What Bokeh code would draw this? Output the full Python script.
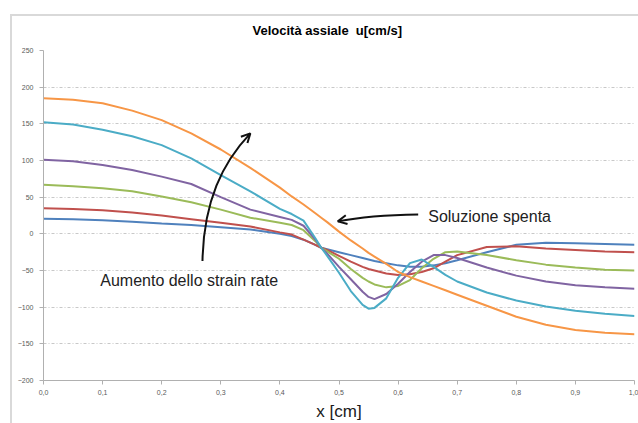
from bokeh.plotting import figure
from bokeh.models import Title, Arrow, OpenHead, FixedTicker, Range1d
from bokeh.core.properties import value
from bokeh.embed import file_html
from bokeh.resources import INLINE

# ---- data ----
X = [0.00, 0.05, 0.10, 0.15, 0.20, 0.25, 0.30, 0.35, 0.40, 0.42, 0.44, 0.46, 0.47, 0.48,
     0.50, 0.52, 0.54, 0.55, 0.56, 0.58, 0.60, 0.62, 0.64, 0.66, 0.68, 0.70, 0.75, 0.80,
     0.85, 0.90, 0.95, 1.00]

blue = [20.5, 20, 18.5, 16.5, 14, 12, 9, 6, 0, -3, -8, -15, -19, -21,
        -25, -29, -33, -35, -37, -40, -43, -45, -45, -43, -40, -36, -25, -15,
        -12, -13, -14, -15]
red = [35, 34, 32, 29, 25, 20, 15, 10, 2, -1, -8, -15, -19, -22,
       -30, -38, -45, -48, -50, -54, -56, -55, -52, -47, -38, -29, -18, -17,
       -20, -22, -24, -25]
green = [67, 65, 62, 58, 51, 43, 33, 22, 15, 12, 5, -10, -19, -24,
         -34, -48, -60, -65, -69, -73, -71, -63, -47, -34, -25, -24, -29, -36,
         -42, -46, -49, -50]
purple = [101, 99, 94, 87, 78, 68, 50, 33, 23, 19, 11, -8, -19, -27,
          -45, -62, -79, -86, -89, -82, -68, -52, -38, -29, -29, -33, -46, -57,
          -65, -70, -73, -75]
cyan = [152, 149, 142, 133, 121, 103, 80, 58, 34, 27, 18, -6, -19, -30,
        -53, -78, -97, -102, -101, -88, -60, -40, -35, -45, -56, -65, -80, -91,
        -99, -105, -109, -112]
orange = [185, 183, 178, 168, 155, 137, 115, 90, 63, 51, 40, 28, 22, 16,
          3, -9, -20, -26, -31, -41, -52, -59, -65, -71, -77, -83, -98, -113,
          -124, -131, -135, -137]

SERIES = [blue, red, green, purple, cyan, orange]
COLORS = ["#4F81BD", "#C0504D", "#9BBB59", "#8064A2", "#4BACC6", "#F79646"]

Y_TICKS = [-200, -150, -100, -50, 0, 50, 100, 150, 200, 250]
X_TICKS = [0.0, 0.1, 0.2, 0.3, 0.4, 0.5, 0.6, 0.7, 0.8, 0.9, 1.0]
X_LABELS = ["0,0", "0,1", "0,2", "0,3", "0,4", "0,5", "0,6", "0,7", "0,8", "0,9", "1,0"]

TITLE = "Velocità assiale \u00a0u[cm/s]"
XLABEL = "x [cm]"

# annotations
NOTE_TEXT = ["Aumento dello strain rate", "Soluzione spenta"]
NOTE_X = [0.096, 0.651]
NOTE_Y = [-63, 23.5]

# curved arrow 1 (strain rate), cubic bezier: start, control0, control1, end
A1 = dict(x0=0.269, y0=-37, cx0=0.271, cy0=45, cx1=0.303, cy1=97, x1=0.350, y1=137)
# curved arrow 2 (soluzione spenta)
A2 = dict(x0=0.634, y0=26.5, cx0=0.585, cy0=26, cx1=0.535, cy1=23, x1=0.498, y1=17)

p = figure(width=638, height=423, output_backend="svg", toolbar_location=None,
           x_range=Range1d(0, 1), y_range=Range1d(-200, 250), title=None,
           min_border_left=43, min_border_right=4, min_border_top=50, min_border_bottom=41)
# small spacer between the frame and the title, then the title itself
p.add_layout(Title(text="\u00a0", text_font_size="6px", standoff=0), "above")
p.add_layout(Title(text=TITLE, align="left", offset=209, text_font="Liberation Sans",
                   text_font_size="13px", text_font_style="bold", text_color="#000000"),
             "above")
p.outline_line_color = None
p.background_fill_color = "white"
p.border_fill_color = None
# outer chart frame (light grey left/top edges of the chart area)
p.styles = {
    "background": ("linear-gradient(#d9d9d9,#d9d9d9) 10px 14px / 2px 100% no-repeat, "
                   "linear-gradient(#d9d9d9,#d9d9d9) 10px 14px / 100% 2px no-repeat, white")
}

# grid
p.xgrid.visible = False
p.ygrid.ticker = FixedTicker(ticks=Y_TICKS)
p.ygrid.grid_line_color = "#c8c8c8"
p.ygrid.grid_line_dash = "3 2 1 2"
p.ygrid.grid_line_width = 1

# axes
for ax in (p.xaxis, p.yaxis):
    ax.axis_line_color = "#b0b0b0"
    ax.major_tick_line_color = "#b0b0b0"
    ax.major_tick_out = 4
    ax.major_tick_in = 0
    ax.minor_tick_line_color = None
    ax.major_label_text_font = "Liberation Sans"
    ax.major_label_text_font_size = "7px"
    ax.major_label_text_color = "#595959"

p.yaxis.ticker = FixedTicker(ticks=Y_TICKS)
p.yaxis.major_label_standoff = 6
p.xaxis.ticker = FixedTicker(ticks=X_TICKS)
p.xaxis.major_label_overrides = {t: l for t, l in zip(X_TICKS, X_LABELS)}
p.xaxis.major_label_standoff = 5
p.xaxis.axis_label = XLABEL
p.xaxis.axis_label_text_font = "Liberation Sans"
p.xaxis.axis_label_text_font_size = "17px"
p.xaxis.axis_label_text_font_style = "normal"
p.xaxis.axis_label_text_color = "#1a1a1a"
p.xaxis.axis_label_standoff = 4

for ys, c in zip(SERIES, COLORS):
    p.line(X, ys, line_color=c, line_width=2)

# arrows
for a in (A1, A2):
    p.bezier(x0=[a["x0"]], y0=[a["y0"]], x1=[a["x1"]], y1=[a["y1"]],
             cx0=[a["cx0"]], cy0=[a["cy0"]], cx1=[a["cx1"]], cy1=[a["cy1"]],
             line_color="#111111", line_width=2)
    sx = a["x1"] - 0.1 * (a["x1"] - a["cx1"])
    sy = a["y1"] - 0.1 * (a["y1"] - a["cy1"])
    p.add_layout(Arrow(end=OpenHead(size=9, line_width=2, line_color="#111111"),
                       x_start=sx, y_start=sy, x_end=a["x1"], y_end=a["y1"],
                       line_color="#111111", line_width=2))

p.text(x=NOTE_X, y=NOTE_Y, text=NOTE_TEXT, text_font=value("Liberation Sans"),
       text_font_size="16px", text_baseline="middle", text_align="left",
       text_color="#222222")

open("out.html", "w").write(file_html(p, INLINE))
